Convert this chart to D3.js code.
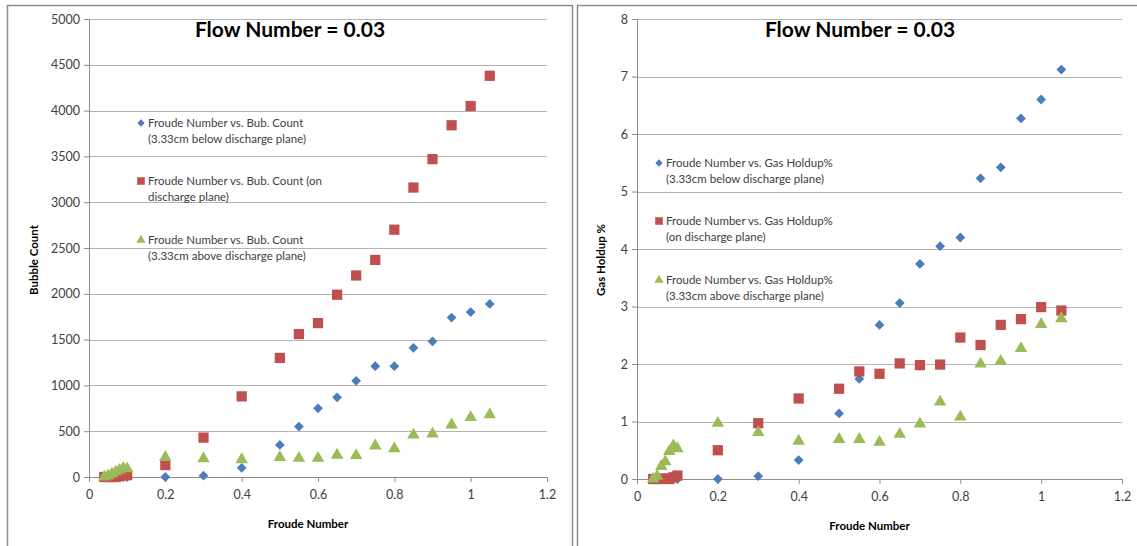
<!DOCTYPE html>
<html>
<head>
<meta charset="utf-8">
<script src="https://cdnjs.cloudflare.com/ajax/libs/d3/7.8.5/d3.min.js"></script>
<style>
  body { margin: 0; background: #fff; }
  svg { display: block; font-family: Lato, "Open Sans", sans-serif; }
  .grid line { stroke: #b3b3b3; stroke-width: 1; }
  .axis path, .axis line { stroke: #8c8c8c; }
  .axis text { fill: #404040; font-size: 12.5px; font-family: Lato, sans-serif; }
  .title { font-weight: bold; font-size: 21px; fill: #000; }
  .axis-title { font-weight: bold; font-size: 11.5px; fill: #000; }
  .legend text { font-size: 11.5px; fill: #404040; }
</style>
</head>
<body>
<svg id="chart" width="1137" height="546"></svg>
<script>
// DATA //
var froude = [0.04, 0.05, 0.06, 0.07, 0.08, 0.09, 0.1, 0.2, 0.3, 0.4, 0.5, 0.55, 0.6, 0.65, 0.7, 0.75, 0.8, 0.85, 0.9, 0.95, 1.0, 1.05];

// bubble count
var countBelow = [0, 0, 0, 0, 0, 0, 0, 0, 15, 100, 350, 550, 750, 870, 1050, 1210, 1210, 1410, 1480, 1740, 1800, 1890];
var countOn = [0, 0, 0, 0, 10, 20, 20, 130, 430, 880, 1300, 1560, 1680, 1990, 2200, 2370, 2700, 3160, 3470, 3840, 4050, 4380];
var countAbove = [0, 15, 35, 55, 75, 95, 90, 215, 200, 190, 215, 205, 205, 240, 235, 340, 310, 460, 470, 570, 650, 680];

// gas holdup %
var holdupBelow = [0, 0, 0, 0, 0, 0, 0, 0, 0.05, 0.33, 1.14, 1.74, 2.68, 3.06, 3.74, 4.05, 4.2, 5.23, 5.42, 6.27, 6.6, 7.12];
var holdupOn = [0, 0, 0, 0.01, 0, 0.03, 0.06, 0.5, 0.97, 1.4, 1.57, 1.87, 1.83, 2.01, 1.98, 1.99, 2.46, 2.33, 2.68, 2.78, 2.99, 2.93];
var holdupAbove = [0, 0.05, 0.22, 0.3, 0.48, 0.58, 0.53, 0.97, 0.81, 0.66, 0.69, 0.69, 0.64, 0.78, 0.96, 1.34, 1.08, 2.0, 2.05, 2.27, 2.69, 2.79];

var xTicks = [0, 0.2, 0.4, 0.6, 0.8, 1, 1.2];
var countTicks = [0, 500, 1000, 1500, 2000, 2500, 3000, 3500, 4000, 4500, 5000];
var holdupTicks = [0, 1, 2, 3, 4, 5, 6, 7, 8];

var countLabels = [
    ['Froude Number vs. Bub. Count', '(3.33cm below discharge plane)'],
    ['Froude Number vs. Bub. Count (on', 'discharge plane)'],
    ['Froude Number vs. Bub. Count', '(3.33cm above discharge plane)']
];
var holdupLabels = [
    ['Froude Number vs. Gas Holdup%', '(3.33cm below discharge plane)'],
    ['Froude Number vs. Gas Holdup%', '(on discharge plane)'],
    ['Froude Number vs. Gas Holdup%', '(3.33cm above discharge plane)']
];

var colors = ['#4a7ebb', '#c0504d', '#9bbb59'];
// diamond = square turned 45 degrees
var shapes = [d3.symbolSquare, d3.symbolSquare, d3.symbolTriangle];
var sizes = [48, 105, 68];
var turns = [45, 0, 0];

var svg = d3.select('#chart');

// frames around the two charts
svg.append('rect').attr('x', 7.5).attr('y', 5.5).attr('width', 565).attr('height', 560)
    .attr('fill', 'none').attr('stroke', '#8c8c8c').attr('stroke-width', 1.5);
svg.append('rect').attr('x', 577.5).attr('y', 5.5).attr('width', 580).attr('height', 560)
    .attr('fill', 'none').attr('stroke', '#8c8c8c').attr('stroke-width', 1.5);

function drawChart(opts) {
    var x = d3.scaleLinear().domain([0, 1.2]).range([opts.left, opts.right]);
    var y = d3.scaleLinear().domain([0, opts.yMax]).range([opts.bottom, opts.top]);
    var g = svg.append('g');

    // gridlines
    g.append('g').attr('class', 'grid')
        .selectAll('line').data(opts.yTicks.slice(1)).enter().append('line')
        .attr('x1', opts.left).attr('x2', opts.right)
        .attr('y1', function(d) { return Math.round(y(d)) + 0.5; })
        .attr('y2', function(d) { return Math.round(y(d)) + 0.5; });

    g.append('g').attr('class', 'axis')
        .attr('transform', 'translate(' + opts.left + ',0)')
        .call(d3.axisLeft(y).tickValues(opts.yTicks).tickSize(5).tickPadding(4).tickFormat(d3.format('d')));

    g.append('g').attr('class', 'axis')
        .attr('transform', 'translate(0,' + opts.bottom + ')')
        .call(d3.axisBottom(x).tickValues(xTicks).tickSize(5).tickPadding(8).tickFormat(function(d) { return d; }));

    // series
    opts.series.forEach(function(vals, s) {
        g.append('g').selectAll('path').data(froude).enter().append('path')
            .attr('d', d3.symbol().type(shapes[s]).size(sizes[s]))
            .attr('fill', colors[s])
            .attr('transform', function(d, i) {
                return 'translate(' + x(d) + ',' + y(vals[i]) + ') rotate(' + turns[s] + ')';
            });
    });

    // title
    g.append('text').attr('class', 'title')
        .attr('x', opts.titleX).attr('y', 37).attr('text-anchor', 'middle')
        .text('Flow Number = 0.03');

    g.append('text').attr('class', 'axis-title')
        .attr('x', (opts.left + opts.right) / 2 - 10).attr('y', opts.bottom + 51)
        .attr('text-anchor', 'middle').text('Froude Number');

    g.append('text').attr('class', 'axis-title')
        .attr('transform', 'translate(' + opts.yTitleX + ',' + 260 + ') rotate(-90)')
        .attr('text-anchor', 'middle').text(opts.yTitle);

    // legend
    var lg = g.append('g').attr('class', 'legend');
    opts.labels.forEach(function(lines, s) {
        var ly = opts.legendY[s];
        lg.append('path')
            .attr('d', d3.symbol().type(shapes[s]).size(sizes[s] * 0.55))
            .attr('fill', colors[s])
            .attr('transform', 'translate(' + opts.legendX + ',' + ly + ') rotate(' + turns[s] + ')');
        lines.forEach(function(t, k) {
            lg.append('text').attr('x', opts.legendX + 7).attr('y', ly + 4 + k * 16).text(t);
        });
    });
}

drawChart({
    left: 89, right: 547, top: 19, bottom: 477, yMax: 5000,
    yTicks: countTicks, series: [countBelow, countOn, countAbove],
    titleX: 290, yTitle: 'Bubble Count', yTitleX: 38,
    labels: countLabels, legendX: 141, legendY: [123, 181, 240]
});

drawChart({
    left: 637, right: 1122, top: 19, bottom: 479, yMax: 8,
    yTicks: holdupTicks, series: [holdupBelow, holdupOn, holdupAbove],
    titleX: 860, yTitle: 'Gas Holdup %', yTitleX: 605,
    labels: holdupLabels, legendX: 659, legendY: [163, 221, 280]
});
</script>
</body>
</html>
